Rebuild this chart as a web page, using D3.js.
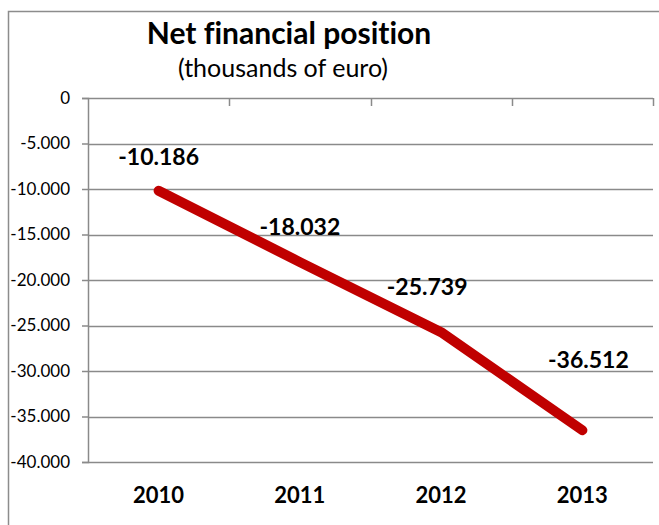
<!DOCTYPE html>
<html>
<head>
<meta charset="utf-8">
<script src="https://cdn.jsdelivr.net/npm/d3@7"></script>
<style>
  html, body { margin: 0; padding: 0; background: #fff; }
  svg { display: block; font-family: Lato, "Open Sans", sans-serif; font-variant-ligatures: none; }
</style>
</head>
<body>
<svg id="chart" width="659" height="525"></svg>
<script>
// Net financial position, thousands of euro
const years = ["2010", "2011", "2012", "2013"];
const netPosition = [-10186, -18032, -25739, -36512];
const yTicks = [0, -5000, -10000, -15000, -20000, -25000, -30000, -35000, -40000];

const svg = d3.select("#chart");
const W = 659, H = 525;
const plot = { left: 88, right: 653, top: 98, bottom: 462 };

// outer chart frame (runs past the bottom/right of the view)
svg.append("rect")
  .attr("x", 8.5).attr("y", 11.5)
  .attr("width", W + 20).attr("height", H + 20)
  .attr("fill", "#fff").attr("stroke", "#8c8c8c").attr("stroke-width", 1.5);

const x = d3.scaleBand().domain(years).range([plot.left, plot.right]).padding(0);
const y = d3.scaleLinear().domain([-40000, 0]).range([plot.bottom, plot.top]);

const fmt = v => v === 0 ? "0" : d3.format(",")(v).replace(/,/g, ".").replace("−", "-");

// horizontal gridlines
svg.append("g")
  .selectAll("line").data(yTicks).join("line")
  .attr("x1", plot.left).attr("x2", plot.right)
  .attr("y1", d => Math.round(y(d)) + 0.5).attr("y2", d => Math.round(y(d)) + 0.5)
  .attr("stroke", "#8a8a8a").attr("stroke-width", 1.5);

// value axis on the left
const yAxis = svg.append("g")
  .attr("transform", `translate(${plot.left},0)`)
  .call(d3.axisLeft(y).tickValues(yTicks).tickSize(6).tickPadding(12).tickFormat(fmt));
yAxis.select(".domain").attr("stroke", "#8a8a8a").attr("stroke-width", 1.5);
yAxis.selectAll(".tick line").attr("stroke", "#8a8a8a").attr("stroke-width", 1.5);
yAxis.selectAll(".tick text")
  .attr("font-family", "Lato, sans-serif").attr("font-size", 17).attr("fill", "#000");

// category axis crosses at zero (top), tick marks at category boundaries
const bounds = years.map(d => x(d)).concat([plot.right]);
svg.append("g")
  .selectAll("line").data(bounds.slice(1)).join("line")
  .attr("x1", d => Math.round(d) + 0.5).attr("x2", d => Math.round(d) + 0.5)
  .attr("y1", plot.top).attr("y2", plot.top + 8)
  .attr("stroke", "#8a8a8a").attr("stroke-width", 1.5);

// category labels at the bottom
svg.append("g")
  .selectAll("text").data(years).join("text")
  .attr("x", d => x(d) + x.bandwidth() / 2)
  .attr("y", 503)
  .attr("text-anchor", "middle")
  .attr("font-size", 22).attr("font-weight", "bold").attr("fill", "#000")
  .text(d => d);

// the series line
const pts = years.map((d, i) => ({ year: d, value: netPosition[i] }));
const line = d3.line().x(d => x(d.year) + x.bandwidth() / 2).y(d => y(d.value));
svg.append("path")
  .datum(pts)
  .attr("d", line)
  .attr("fill", "none")
  .attr("stroke", "#C00000")
  .attr("stroke-width", 10)
  .attr("stroke-linecap", "round")
  .attr("stroke-linejoin", "round");

// data labels, nudged off the line
const labelShift = [[0, -26], [0, -27], [-14, -37], [6, -62]];
svg.append("g")
  .selectAll("text").data(pts).join("text")
  .attr("x", (d, i) => x(d.year) + x.bandwidth() / 2 + labelShift[i][0])
  .attr("y", (d, i) => y(d.value) + labelShift[i][1])
  .attr("text-anchor", "middle")
  .attr("font-size", 23).attr("font-weight", "bold").attr("fill", "#000")
  .text(d => fmt(d.value));

// titles
svg.append("text")
  .attr("x", 289).attr("y", 44)
  .attr("text-anchor", "middle")
  .attr("font-size", 30).attr("font-weight", "bold").attr("fill", "#000")
  .text("Net financial position");
svg.append("text")
  .attr("x", 283).attr("y", 77)
  .attr("text-anchor", "middle")
  .attr("font-size", 25).attr("fill", "#000")
  .text("(thousands of euro)");
</script>
</body>
</html>
